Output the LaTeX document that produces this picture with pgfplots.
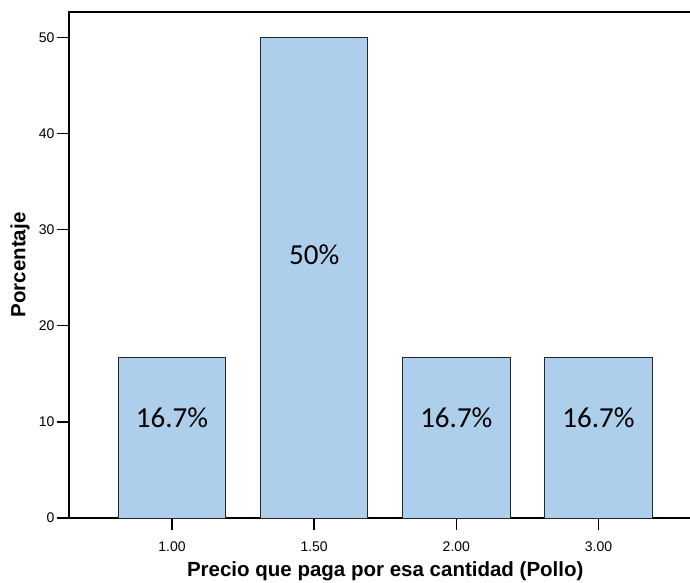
\documentclass[border=0pt]{standalone}
\usepackage{fontspec}
\setmainfont{Liberation Sans}
\newfontfamily\barfont{Carlito}
\usepackage{pgfplots}
\pgfplotsset{compat=1.18}
\definecolor{barblue}{RGB}{174,207,236}
\begin{document}
\begin{tikzpicture}
\begin{axis}[
  scale only axis,
  width=621pt, height=506pt,
  xmin=-0.724, xmax=3.643,
  ymin=0, ymax=52.63,
  axis x line=bottom, axis y line=left,
  axis line style={-, line width=2pt, black},
  ybar, bar width=107.4pt, bar shift=0pt,
  xtick={0,1,2,3},
  xticklabels={1.00,1.50,2.00,3.00},
  ytick={0,10,20,30,40,50},
  tick align=outside,
  major tick length=12pt,
  tick style={line width=1.5pt, black},
  /pgf/number format/assume math mode=true,
  ticklabel style={font=\fontsize{14}{16}\selectfont},
  xticklabel style={yshift=-8pt},
  yticklabel style={xshift=1pt},
  xlabel={Precio que paga por esa cantidad (Pollo)},
  ylabel={Porcentaje},
  label style={font=\fontsize{20.5}{24}\selectfont\bfseries},
  xlabel style={at={(axis cs:1.5,0)}, anchor=center, yshift=-53pt},
  ylabel style={at={(axis description cs:-0.0789,0.5)}, anchor=center},
  clip=false,
]
\addplot[fill=barblue, draw=black!85, line width=1pt] coordinates {(0,16.67) (1,50) (2,16.67) (3,16.67)};
\draw[line width=2pt, line cap=rect] (rel axis cs:0,1) -- (rel axis cs:1,1);
\node[font=\barfont\fontsize{29}{32}\selectfont] at (axis cs:0,10.4) {16.7\%};
\node[font=\barfont\fontsize{29}{32}\selectfont] at (axis cs:1,27.4) {50\%};
\node[font=\barfont\fontsize{29}{32}\selectfont] at (axis cs:2,10.4) {16.7\%};
\node[font=\barfont\fontsize{29}{32}\selectfont] at (axis cs:3,10.4) {16.7\%};
\end{axis}
\pgfresetboundingbox
\useasboundingbox ([xshift=-69pt,yshift=-65pt]current axis.south west) rectangle ([yshift=12pt]current axis.north east);
\end{tikzpicture}
\end{document}
